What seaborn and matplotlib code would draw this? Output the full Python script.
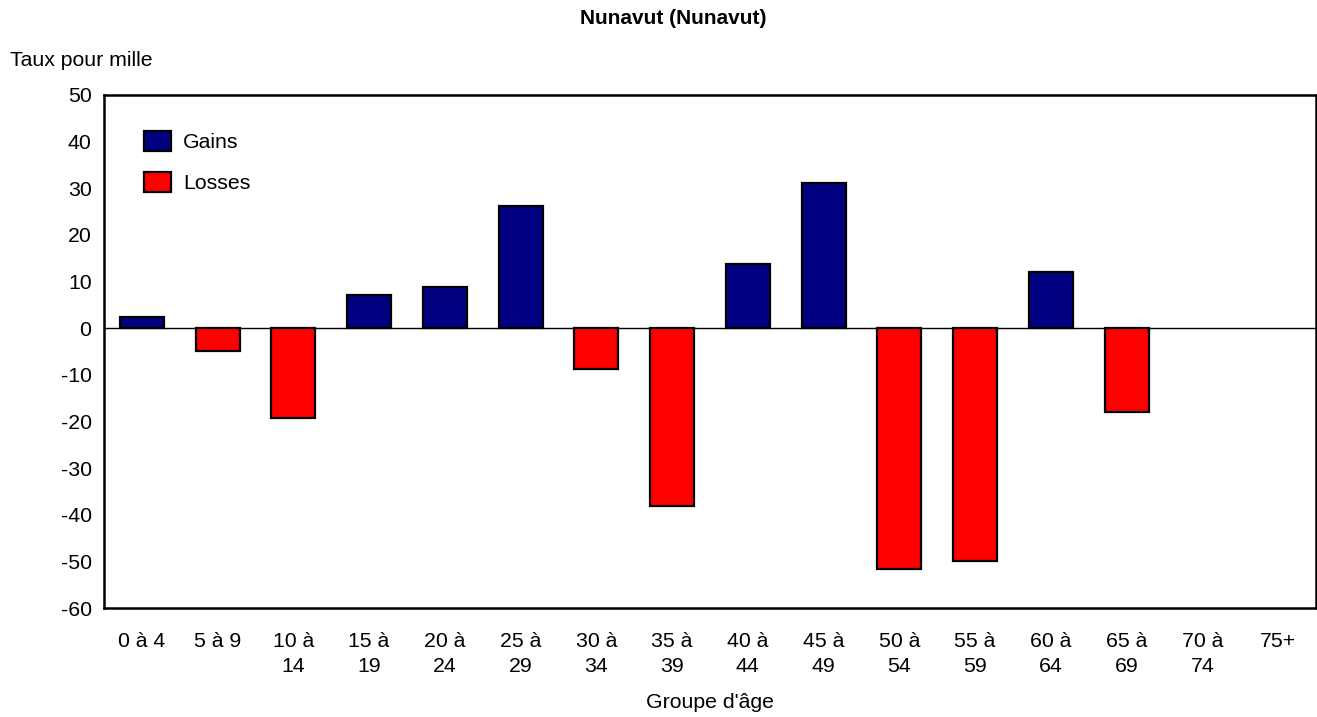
import pandas as pd
import seaborn as sns
import matplotlib.pyplot as plt
from matplotlib.patches import Patch

# Data
age_groups = ["0 à 4", "5 à 9", "10 à\n14", "15 à\n19", "20 à\n24", "25 à\n29",
              "30 à\n34", "35 à\n39", "40 à\n44", "45 à\n49", "50 à\n54",
              "55 à\n59", "60 à\n64", "65 à\n69", "70 à\n74", "75+"]
rates = [2.4, -4.9, -19.3, 7.1, 8.8, 26.2, -8.8, -38.2, 13.7, 31.1,
         -51.6, -49.9, 12.0, -18.0, 0.0, 0.0]
series_names = ["Gains", "Losses"]
series_colors = {"Gains": "#000080", "Losses": "#FF0000"}
y_ticks = list(range(-60, 51, 10))

df = pd.DataFrame({"age": age_groups, "rate": rates})
df["type"] = ["Gains" if r > 0 else "Losses" for r in df["rate"]]
plot_df = df[df["rate"] != 0]

sns.set_theme(style="white")
plt.rcParams["font.family"] = ["Liberation Sans", "DejaVu Sans"]
plt.rcParams["text.color"] = "black"
plt.rcParams["xtick.color"] = "black"
plt.rcParams["ytick.color"] = "black"

fs = 15.3

fig = plt.figure(figsize=(13.17, 7.17), dpi=100)
ax = fig.add_axes([104 / 1317, 1 - 608 / 717, 1212 / 1317, 513 / 717])

sns.barplot(data=plot_df, x="age", y="rate", hue="type", order=age_groups,
            hue_order=series_names, palette=series_colors, dodge=False,
            saturation=1, width=0.58, edgecolor="black", linewidth=1.6,
            legend=False, ax=ax)

ax.axhline(0, color="black", linewidth=1, zorder=0.5)
ax.set_ylim(-60, 50)
ax.set_xlim(-0.5, len(age_groups) - 0.5)
ax.set_yticks(y_ticks)
ax.set_yticklabels([str(t) for t in y_ticks], fontsize=fs)
ax.tick_params(axis="y", direction="out", length=5, width=1.2, color="black", pad=4)
ax.tick_params(axis="x", length=0, labelsize=fs, pad=17)
for lbl in ax.get_xticklabels():
    lbl.set_linespacing(1.4)
ax.set_xlabel("")
ax.set_ylabel("")
for s in ax.spines.values():
    s.set_color("black")
    s.set_linewidth(1.8)

handles = [Patch(facecolor=series_colors[n], edgecolor="black", linewidth=1.6, label=n)
           for n in series_names]
ax.legend(handles=handles, loc="upper left", bbox_to_anchor=(0.017, 0.967),
          frameon=False, fontsize=fs, handlelength=1.3, handleheight=1.05,
          labelspacing=0.95, handletextpad=0.55)

fig.text(673 / 1317, 1 - 19 / 717, "Nunavut (Nunavut)", ha="center", va="center",
         fontsize=15, fontweight="bold")
fig.text(10 / 1317, 1 - 60 / 717, "Taux pour mille", ha="left", va="center", fontsize=fs)
fig.text(710 / 1317, 1 - 703 / 717, "Groupe d'âge", ha="center", va="center", fontsize=fs)

fig.savefig("out.png", dpi=100)
